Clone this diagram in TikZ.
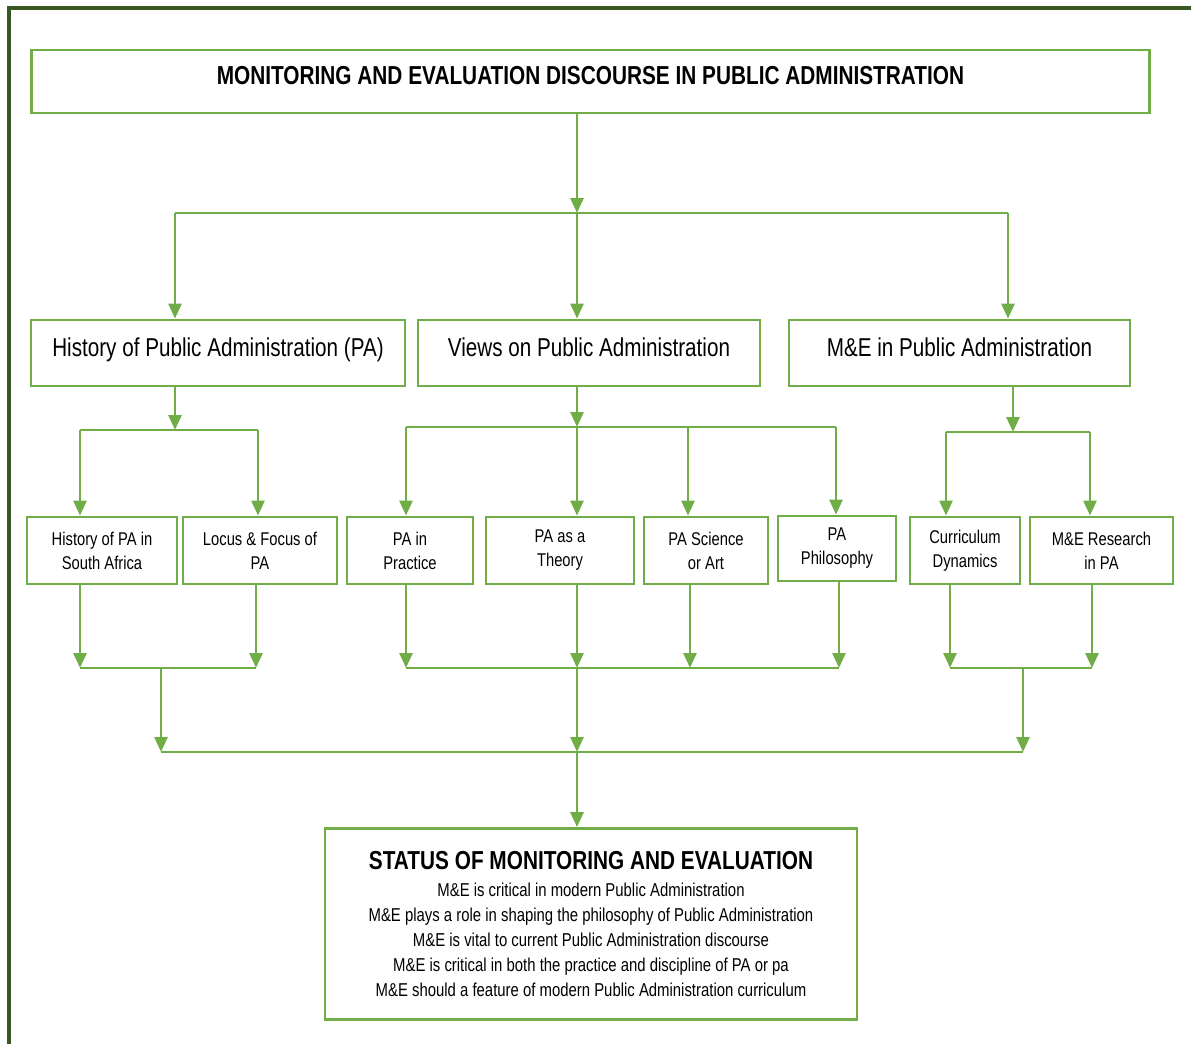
\documentclass[tikz,border=0pt]{standalone}
\usepackage{fontspec}
\setmainfont{Liberation Sans}[FakeStretch=0.8]
\usetikzlibrary{positioning}
\usetikzlibrary{arrows.meta}

\definecolor{boxgreen}{RGB}{112,173,71}
\definecolor{framegreen}{RGB}{56,87,35}

\begin{document}
\begin{tikzpicture}[x=0.02cm,y=-0.02cm]

	\tikzstyle{box}=[rectangle,draw=boxgreen,line width=1.6pt,inner sep=0pt,align=center]
	\tikzstyle{big box}=[box,minimum height=1.32cm,text height=0.4cm,text depth=0.26cm,font=\fontsize{14.7}{18}\selectfont]
	\tikzstyle{small box}=[box,minimum height=1.34cm,font=\fontsize{10.5}{13.6}\selectfont]
	\tikzstyle{link}=[draw=boxgreen,line width=1.6pt]
	\tikzstyle{arrow}=[link,-{Triangle[length=3mm,width=2.6mm]}]

	\useasboundingbox (0,0) rectangle (1191,1044);
	\draw[framegreen,line width=2pt] (9,1044) -- (9,8) -- (1191,8);

	% Top:
	\node [box,minimum width=22.38cm,minimum height=1.26cm,text height=0.4cm,text depth=0.26cm,font=\fontsize{14.8}{18}\selectfont\bfseries] at (590.5,81.5) (title) {MONITORING AND EVALUATION DISCOURSE IN PUBLIC ADMINISTRATION};

	\node [big box,minimum width=7.48cm] at (218,353) (hist) {History of Public Administration (PA)};
	\node [big box,minimum width=6.84cm] at (589,353) (views) {Views on Public Administration};
	\node [big box,minimum width=6.82cm] at (959.5,353) (me) {M\&E in Public Administration};

	\node [small box,minimum width=3cm] at (102,550.5) (hsa) {History of PA in\\South Africa};
	\node [small box,minimum width=3.08cm] at (260,550.5) (locus) {Locus \& Focus of\\PA};
	\node [small box,minimum width=2.52cm] at (410,550.5) (prac) {PA in\\Practice};
	\node [small box,minimum width=2.96cm] at (560,550.5) (theory) {PA as a\\Theory};
	\node [small box,minimum width=2.48cm] at (706,550.5) (sci) {PA Science\\or Art};
	\node [small box,minimum width=2.36cm,minimum height=1.3cm] at (837,548.5) (phil) {PA\\Philosophy};
	\node [small box,minimum width=2.2cm] at (965,550.5) (curr) {Curriculum\\Dynamics};
	\node [small box,minimum width=2.86cm] at (1101.5,550.5) (res) {M\&E Research\\in PA};

	\node [box,minimum width=10.64cm,minimum height=3.82cm,font=\fontsize{10.6}{14.2}\selectfont] at (591,924) (status) {{\fontsize{14.8}{15}\selectfont\bfseries STATUS OF MONITORING AND EVALUATION}\\[1pt]
		M\&E is critical in modern Public Administration\\
		M\&E plays a role in shaping the philosophy of Public Administration\\
		M\&E is vital to current Public Administration discourse\\
		M\&E is critical in both the practice and discipline of PA or pa\\
		M\&E should a feature of modern Public Administration curriculum};

	% Buses:
	\coordinate (tb) at (577,213);
	\coordinate (tb l) at (175,213);
	\coordinate (tb r) at (1008,213);
	\draw[arrow] (title.south -| tb) -- (tb);
	\draw[link] (tb l) -- (tb r);
	\draw[arrow] (tb l) -- (hist.north -| tb l);
	\draw[arrow] (tb) -- (views.north -| tb);
	\draw[arrow] (tb r) -- (me.north -| tb r);

	\coordinate (hb) at (175,430);
	\coordinate (hb l) at (80,430);
	\coordinate (hb r) at (258,430);
	\draw[arrow] (hist.south -| hb) -- (hb);
	\draw[link] (hb l) -- (hb r);
	\draw[arrow] (hb l) -- (hsa.north -| hb l);
	\draw[arrow] (hb r) -- (locus.north -| hb r);

	\coordinate (vb) at (577,427);
	\coordinate (vb 1) at (406,427);
	\coordinate (vb 3) at (688,427);
	\coordinate (vb 4) at (836,427);
	\draw[arrow] (views.south -| vb) -- (vb);
	\draw[link] (vb 1) -- (vb 4);
	\draw[arrow] (vb 1) -- (prac.north -| vb 1);
	\draw[arrow] (vb) -- (theory.north -| vb);
	\draw[arrow] (vb 3) -- (sci.north -| vb 3);
	\draw[arrow] (vb 4) -- (phil.north -| vb 4);

	\coordinate (mb) at (1013,432);
	\coordinate (mb l) at (946,432);
	\coordinate (mb r) at (1090,432);
	\draw[arrow] (me.south -| mb) -- (mb);
	\draw[link] (mb l) -- (mb r);
	\draw[arrow] (mb l) -- (curr.north -| mb l);
	\draw[arrow] (mb r) -- (res.north -| mb r);

	% Lower buses:
	\coordinate (hl) at (161,668);
	\coordinate (hl l) at (80,668);
	\coordinate (hl r) at (256,668);
	\draw[arrow] (hsa.south -| hl l) -- (hl l);
	\draw[arrow] (locus.south -| hl r) -- (hl r);
	\draw[link] (hl l) -- (hl r);

	\coordinate (vl 1) at (406,668);
	\coordinate (vl 2) at (577,668);
	\coordinate (vl 3) at (690,668);
	\coordinate (vl 4) at (839,668);
	\draw[arrow] (prac.south -| vl 1) -- (vl 1);
	\draw[arrow] (theory.south -| vl 2) -- (vl 2);
	\draw[arrow] (sci.south -| vl 3) -- (vl 3);
	\draw[arrow] (phil.south -| vl 4) -- (vl 4);
	\draw[link] (vl 1) -- (vl 4);

	\coordinate (ml) at (1023,668);
	\coordinate (ml l) at (950,668);
	\coordinate (ml r) at (1092,668);
	\draw[arrow] (curr.south -| ml l) -- (ml l);
	\draw[arrow] (res.south -| ml r) -- (ml r);
	\draw[link] (ml l) -- (ml r);

	\coordinate (bb) at (577,752);
	\coordinate (bb l) at (161,752);
	\coordinate (bb r) at (1023,752);
	\draw[arrow] (hl) -- (bb l);
	\draw[arrow] (vl 2) -- (bb);
	\draw[arrow] (ml) -- (bb r);
	\draw[link] (bb l) -- (bb r);
	\draw[arrow] (bb) -- (status.north -| bb);

\end{tikzpicture}
\end{document}
